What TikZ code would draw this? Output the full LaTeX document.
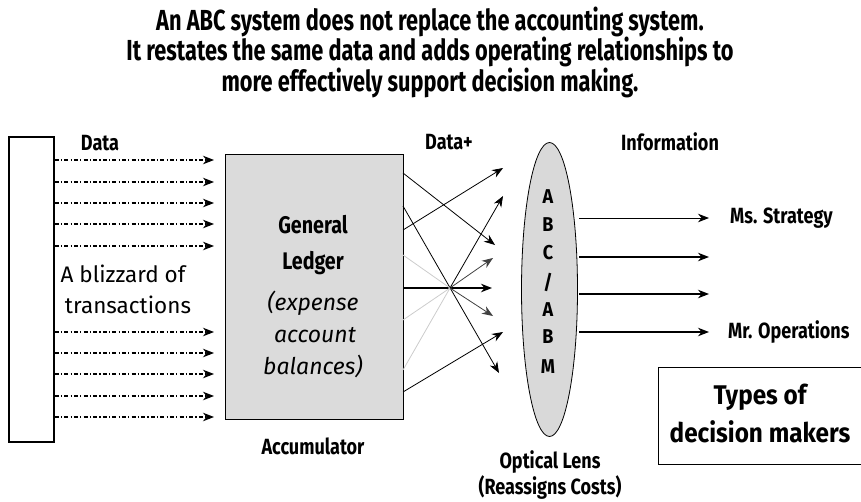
\documentclass[tikz,border=0pt]{standalone}
\usepackage{fontspec}
\usetikzlibrary{arrows.meta,shapes.geometric}
\newfontfamily\ttlfont{Fira Sans}[FakeStretch=0.75]
\newfontfamily\labfont{Fira Sans}[FakeStretch=0.82]
\newfontfamily\keyfont{Fira Sans}[FakeStretch=0.9]
\newfontfamily\plainfont{Fira Sans}
\begin{document}
\begin{tikzpicture}[x=1pt,y=-1pt,
  tip/.style={-{Stealth[length=11pt,width=8.5pt,inset=3.5pt]}},
  feed/.style={tip,line width=1.1pt,dash pattern=on 4pt off 2.2pt on 1.2pt off 2.2pt},
  ray/.style={tip,line width=0.8pt},
  fray/.style={line width=0.8pt,gray!40},
  outarrow/.style={tip,line width=1.2pt},
  lbl/.style={font=\labfont\bfseries\fontsize{22}{24}\selectfont,inner sep=0pt},
  gl text/.style={font=\labfont\bfseries\fontsize{24}{26}\selectfont,inner sep=0pt},
  note/.style={font=\plainfont\itshape\fontsize{23}{25}\selectfont,inner sep=0pt},
  plain/.style={font=\plainfont\fontsize{22.5}{25}\selectfont,inner sep=0pt},
  lens letter/.style={font=\keyfont\bfseries\fontsize{20}{22}\selectfont,inner sep=0pt},
  key/.style={font=\keyfont\bfseries\fontsize{27}{30}\selectfont,inner sep=0pt},
  big/.style={font=\ttlfont\bfseries\fontsize{29}{30.5}\selectfont,align=center,inner sep=0pt}]
\useasboundingbox (0,0) rectangle (861,501);

% heading
\node[big] (title) at (430,52) {An ABC system does not replace the accounting system.\\
It restates the same data and adds operating relationships to\\
more effectively support decision making.};

% source of transactions
\node[draw,line width=1.5pt,minimum width=45pt,minimum height=305pt,inner sep=0pt] (src) at (31.5,289.5) {};
\node[lbl] (data) at (100,143) {Data};
\node[plain] (bz1) at (123,274) {A blizzard of};
\node[plain] (bz2) at (128,305) {transactions};

% accumulator box
\node[draw,line width=1pt,fill=black!14,minimum width=178pt,minimum height=265pt,inner sep=0pt] (gl) at (314,286.5) {};
\node[gl text] (gen) at (313,225) {General};
\node[gl text] (led) at (313,263) {Ledger};
\node[note] (it1) at (313,303) {(expense};
\node[note] (it2) at (315,335) {account};
\node[note] (it3) at (313,366) {balances)};
\node[lbl] (acc) at (313,446) {Accumulator};

% dash-dot feeds into the ledger
\foreach \y [count=\i] in {160,182,203,224,246,332,353,374,396,417}{
  \coordinate (fs\i) at (src.east |- 0,\y);
  \coordinate (fe\i) at (214,\y);
  \draw[feed] (fs\i) -- (fe\i);
}

% lens
\node[draw,line width=0.8pt,fill=black!15,ellipse,minimum width=56pt,minimum height=294pt,inner sep=0pt] (lens) at (549.5,289.5) {};
\foreach \ch/\y in {A/197,B/225,C/253,{/}/282,A/310,B/337,M/367}
  \node[lens letter] at (548,\y) {\ch};
\node[lbl] (dplus) at (449,142) {Data+};
\node[lbl] (info) at (670,142) {Information};
\node[lbl] (opt) at (550,462) {Optical Lens};
\node[lbl] (reas) at (550,487) {(Reassigns Costs)};

% rays between ledger and lens
\coordinate (fx) at (450,288);
\coordinate (a0) at (403,173);  \coordinate (a1) at (495,245);
\coordinate (b0) at (403,230);  \coordinate (b1) at (503,168);
\coordinate (c0) at (403,206);  \coordinate (c1) at (499,373);
\coordinate (d0) at (403,255);  \coordinate (d1) at (493,316);
\coordinate (e0) at (403,320);  \coordinate (e1) at (493,258);
\coordinate (f0) at (403,370);  \coordinate (f1) at (503,196);
\coordinate (g0) at (403,392);  \coordinate (g1) at (503,332);
\coordinate (h0) at (403,288);  \coordinate (h1) at (492,288);
\draw[ray] (a0) -- (a1);
\draw[ray] (b0) -- (b1);
\draw[ray] (c0) -- (c1);
\draw[ray] (g0) -- (g1);
\draw[tip,line width=1.6pt] (h0) -- (h1);
\draw[fray] (d0) -- (fx);
\draw[fray] (e0) -- (fx);
\draw[fray] (f0) -- (fx);
\draw[ray,black!75] (fx) -- (d1);
\draw[ray,black!75] (fx) -- (e1);
\draw[ray] (fx) -- (f1);

% information to decision makers
\foreach \y [count=\i] in {218,257,294,332}{
  \coordinate (os\i) at (579,\y);
  \coordinate (oe\i) at (709,\y);
}
\draw[outarrow,line width=0.9pt] (os1) -- (oe1);
\draw[outarrow] (os2) -- (oe2);
\draw[outarrow] (os3) -- (oe3);
\draw[outarrow] (os4) -- (oe4);
\node[lbl,anchor=west] (ms) at (730,218) {Ms. Strategy};
\node[lbl,anchor=west] (mr) at (728,332) {Mr. Operations};

% legend box
\node[draw,line width=1pt,minimum width=210pt,minimum height=97pt,inner sep=0pt] (types) at (763,415.5) {};
\node[key] (t1) at (760,397) {Types of};
\node[key] (t2) at (760,432) {decision makers};
\end{tikzpicture}
\end{document}
